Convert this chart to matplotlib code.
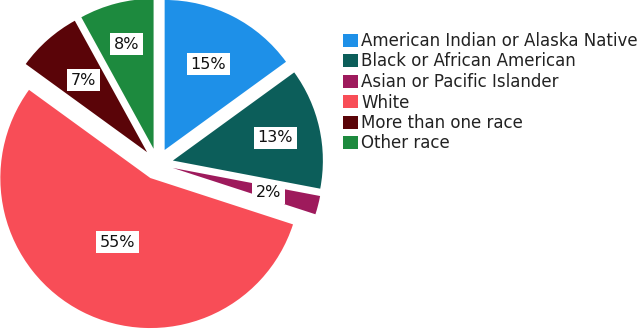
import numpy as np
import matplotlib.pyplot as plt
from matplotlib.patches import Patch

labels = ['American Indian or Alaska Native', 'Black or African American',
          'Asian or Pacific Islander', 'White', 'More than one race', 'Other race']
shares = [15, 13, 2, 55, 7, 8]
colors = ['#1e90e8', '#0c5e5a', '#9e1a5c', '#f84d57', '#5a0408', '#1d8a3e']
# distance of each percent label from the slice tip (fraction of radius)
label_dist = [0.64, 0.70, 0.66, 0.48, 0.64, 0.72]

fig = plt.figure(figsize=(6.44, 3.3), dpi=100)
# pie centre at (157.5, 164) px from top-left, radius 150 px
ax = fig.add_axes([(157.5 - 165) / 644, (166 - 165) / 330, 330 / 644, 1])

expl = 0.105
wedges, texts, autotexts = ax.pie(
    shares, colors=colors, startangle=90, counterclock=False,
    explode=[expl] * len(shares), autopct='%d%%', pctdistance=0.7,
    radius=1.0, wedgeprops=dict(linewidth=0),
    textprops=dict(fontsize=11.5, color='#111111'))
for w, t, d in zip(wedges, autotexts, label_dist):
    ang = np.deg2rad((w.theta1 + w.theta2) / 2)
    cx, cy = w.center
    t.set_position((cx + d * np.cos(ang), cy + d * np.sin(ang)))
    t.set_bbox(dict(facecolor='white', edgecolor='none', pad=2.5))
ax.set_xlim(-1.1, 1.1)
ax.set_ylim(-1.1, 1.1)
ax.set_aspect('equal')
ax.axis('off')

handles = [Patch(facecolor=c, edgecolor='none') for c in colors]
fig.legend(handles, labels, loc='upper left', bbox_to_anchor=(343 / 644, 1 - 32 / 330),
           frameon=False, fontsize=12, handlelength=0.9, handleheight=0.8,
           handletextpad=0.2, labelspacing=0.15, borderaxespad=0, borderpad=0,
           labelcolor='#222222')

fig.savefig('out.png', dpi=100)
